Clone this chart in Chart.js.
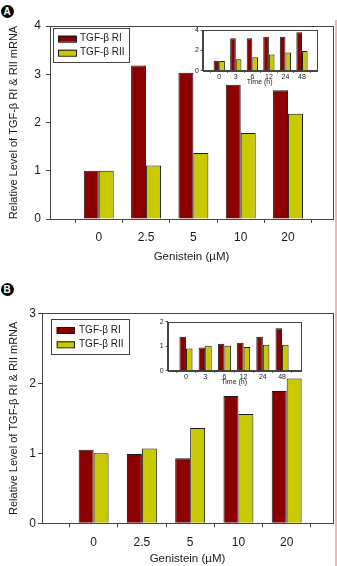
<!DOCTYPE html>
<html>
<head>
<meta charset="utf-8">
<script src="https://cdn.jsdelivr.net/npm/chart.js@4.4.1/dist/chart.umd.min.js"></script>
<style>
  html, body { margin: 0; padding: 0; background: #fff; width: 337px; height: 566px; overflow: hidden; }
  canvas { position: absolute; }
  .tag { position: absolute; width: 13px; height: 13px; border-radius: 50%; background: #000; color: #fff;
         font: bold 10px Arial, "Liberation Sans", sans-serif; text-align: center; line-height: 13px; }
  .edge { position: absolute; left: 335px; top: 20px; width: 2px; height: 546px; background: #f6b3b3; }
</style>
</head>
<body>
<div class="tag" style="left:0.5px;top:5px">A</div>
<div class="tag" style="left:0.5px;top:283px">B</div>
<div class="edge"></div>
<canvas id="mainA" width="337" height="270" style="left:0;top:0"></canvas>
<canvas id="insetA" width="150" height="70" style="left:170px;top:20px"></canvas>
<canvas id="mainB" width="337" height="286" style="left:0;top:280px"></canvas>
<canvas id="insetB" width="170" height="80" style="left:135px;top:310px"></canvas>
<script>
// categories
const doses = ['0', '2.5', '5', '10', '20'];
const hours = ['0', '3', '6', '12', '24', '48'];
const seriesNames = ['TGF-β RI', 'TGF-β RII'];

// panel A
const doseRI_A = [1.0, 3.18, 3.03, 2.78, 2.67];
const doseRII_A = [1.0, 1.11, 1.37, 1.78, 2.18];
const timeRI_A = [0.97, 3.2, 3.2, 3.33, 3.33, 3.77];
const timeRII_A = [0.95, 1.12, 1.33, 1.58, 1.8, 1.93];

// panel B
const doseRI_B = [1.05, 0.99, 0.93, 1.82, 1.89];
const doseRII_B = [1.0, 1.07, 1.36, 1.56, 2.07];
const timeRI_B = [1.39, 0.95, 1.1, 1.14, 1.39, 1.73];
const timeRII_B = [0.91, 1.02, 1.02, 0.97, 1.06, 1.06];

const FONT = 'Arial, "Liberation Sans", sans-serif';
const fills = ['#8b0000', '#c9c900'];
const AXIS = '#444';
const TXT = '#1a1a1a';

// box round the plot area
const frame = {
  id: 'frame',
  afterDraw(chart) {
    const { ctx, chartArea: a } = chart;
    ctx.save();
    ctx.strokeStyle = AXIS;
    ctx.lineWidth = 1;
    ctx.strokeRect(Math.round(a.left) + 0.5, Math.round(a.top) + 0.5,
      Math.round(a.right - a.left), Math.round(a.bottom - a.top));
    ctx.restore();
  }
};

// legend drawn inside the plot, with a border
const boxLegend = {
  id: 'boxLegend',
  afterDraw(chart, args, o) {
    if (!o.show) return;
    const ctx = chart.ctx;
    ctx.save();
    ctx.fillStyle = '#fff';
    ctx.fillRect(o.x, o.y, o.w, o.h);
    ctx.strokeStyle = AXIS;
    ctx.lineWidth = 1;
    ctx.strokeRect(o.x + 0.5, o.y + 0.5, o.w, o.h);
    ctx.font = o.size + 'px ' + FONT;
    ctx.textBaseline = 'middle';
    chart.data.datasets.forEach((ds, k) => {
      const cy = o.rows[k];
      ctx.fillStyle = ds.backgroundColor;
      ctx.fillRect(o.sx, cy - o.sh / 2, o.sw, o.sh);
      ctx.strokeStyle = '#1a1a1a';
      ctx.strokeRect(o.sx + 0.5, cy - o.sh / 2 + 0.5, o.sw, o.sh);
      ctx.fillStyle = TXT;
      ctx.fillText(ds.label, o.tx, cy);
    });
    ctx.restore();
  }
};

function makeChart(id, cats, ri, rii, o) {
  new Chart(document.getElementById(id), {
    type: 'bar',
    data: {
      datasets: [ri, rii].map((vals, k) => ({
        label: seriesNames[k],
        data: vals.map((v, i) => ({ x: i, y: v })),
        backgroundColor: fills[k],
        borderColor: '#1a1a1a',
        borderWidth: 1,
        categoryPercentage: o.catPct,
        barPercentage: 1
      }))
    },
    options: {
      responsive: false,
      animation: false,
      layout: { padding: o.pad },
      plugins: {
        legend: { display: false },
        tooltip: { enabled: false },
        boxLegend: o.legend || { show: false }
      },
      scales: {
        x: {
          type: 'linear',
          min: o.xMin, max: o.xMax,
          offset: false,
          afterFit: (s) => { s.height = o.xH; },
          afterBuildTicks: (s) => { s.ticks = cats.map((c, i) => ({ value: i })); },
          ticks: {
            autoSkip: false, maxRotation: 0,
            callback: (v) => cats[v],
            font: { family: FONT, size: o.tickSize }, color: TXT, padding: o.xTickPad
          },
          grid: { drawOnChartArea: false, drawTicks: true, tickLength: o.tickLen, color: AXIS },
          border: { color: AXIS },
          title: {
            display: true, text: o.xTitle, color: TXT,
            font: { family: FONT, size: o.xTitleSize },
            padding: { top: 0, bottom: o.xTitlePad }
          }
        },
        y: {
          min: 0, max: o.yMax,
          afterFit: (s) => { s.width = o.yW; },
          ticks: {
            stepSize: 1,
            font: { family: FONT, size: o.tickSize }, color: TXT, padding: o.yTickPad
          },
          grid: { drawOnChartArea: false, drawTicks: true, tickLength: o.tickLen, color: AXIS },
          border: { color: AXIS },
          title: {
            display: !!o.yTitle, text: o.yTitle || '', color: TXT,
            font: { family: FONT, size: 11 },
            padding: { top: o.yTitlePad || 0, bottom: 0 }
          }
        }
      }
    },
    plugins: [frame, boxLegend]
  });
}

const yTitle = 'Relative Level of TGF-β RI & RII mRNA';

makeChart('mainA', doses, doseRI_A, doseRII_A, {
  catPct: 0.633, pad: { left: 0, top: 26, right: 4, bottom: 0 },
  xMin: -1.03, xMax: 4.95, xH: 51, yW: 50, yMax: 4,
  tickSize: 12, tickLen: 4, xTickPad: 7, yTickPad: 5,
  xTitle: 'Genistein (µM)', xTitleSize: 11.5, xTitlePad: 6.4,
  yTitle: yTitle, yTitlePad: 7.6,
  legend: { show: true, x: 53, y: 28, w: 76, h: 34, sx: 58, sw: 18, sh: 6, rows: [38.7, 52.7], tx: 80, size: 10 }
});

makeChart('insetA', hours, timeRI_A, timeRII_A, {
  catPct: 0.68, pad: { left: 0, top: 10, right: 3.3, bottom: 0 },
  xMin: -1, xMax: 5.89, xH: 19.3, yW: 32.7, yMax: 4,
  tickSize: 7, tickLen: 2, xTickPad: 0, yTickPad: 1.7,
  xTitle: 'Time (h)', xTitleSize: 7, xTitlePad: 3.5
});

makeChart('mainB', doses, doseRI_B, doseRII_B, {
  catPct: 0.62, pad: { left: 0, top: 33.3, right: 4, bottom: 0 },
  xMin: -1.07, xMax: 4.96, xH: 42.7, yW: 42, yMax: 3,
  tickSize: 12, tickLen: 4, xTickPad: 8, yTickPad: 2,
  xTitle: 'Genistein (µM)', xTitleSize: 11.5, xTitlePad: 0,
  yTitle: yTitle, yTitlePad: 7,
  legend: { show: true, x: 51, y: 39, w: 78, h: 35, sx: 56.7, sw: 17.3, sh: 6, rows: [50, 64.3], tx: 79, size: 10 }
});

makeChart('insetB', hours, timeRI_B, timeRII_B, {
  catPct: 0.68, pad: { left: 0, top: 11.7, right: 4.3, bottom: 0 },
  xMin: -0.95, xMax: 5.97, xH: 19.3, yW: 32.7, yMax: 2,
  tickSize: 7, tickLen: 2, xTickPad: 0, yTickPad: 2,
  xTitle: 'Time (h)', xTitleSize: 7, xTitlePad: 3.5
});
</script>
</body>
</html>
